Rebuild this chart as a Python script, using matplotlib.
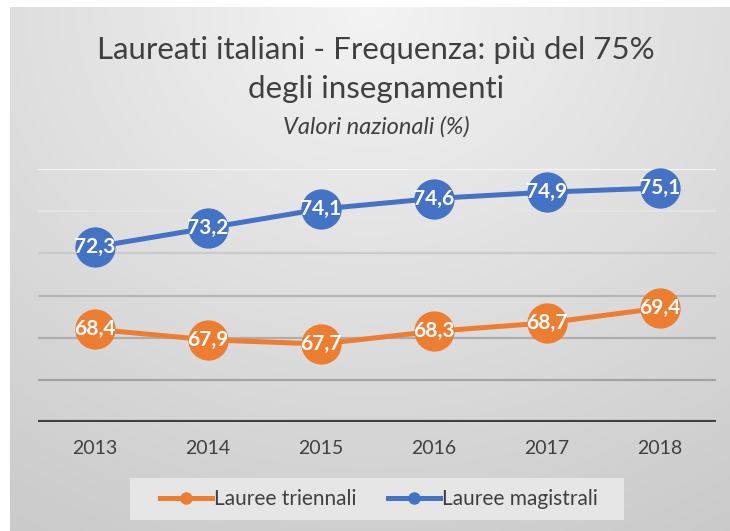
import numpy as np
import matplotlib.pyplot as plt
from matplotlib.patches import Rectangle

# dati
anni = ['2013', '2014', '2015', '2016', '2017', '2018']
triennali = [68.4, 67.9, 67.7, 68.3, 68.7, 69.4]
magistrali = [72.3, 73.2, 74.1, 74.6, 74.9, 75.1]
etichette = ['Lauree triennali', 'Lauree magistrali']

titolo_1 = 'Laureati italiani - Frequenza: più del 75%'
titolo_2 = 'degli insegnamenti'
sottotitolo = 'Valori nazionali (%)'

arancio = '#ED7D31'
blu = '#4472C4'
testo = '#404040'
plt.rcParams['font.family'] = ['Lato', 'DejaVu Sans']

fig = plt.figure(figsize=(7.30, 5.31), dpi=100)

# sfondo sfumato dell'area grafico
bg = fig.add_axes([10 / 730, 0, 720 / 730, 1 - 7 / 531], zorder=0)
gy, gx = np.mgrid[0:1:200j, 0:1:200j]
d = np.sqrt(((gx - 0.5) * 1.2) ** 2 + gy ** 2)
g = np.clip(0.955 - 0.14 * d, 0, 1)
bg.imshow(np.dstack([g, g, g]), extent=[0, 1, 0, 1], origin='upper',
          aspect='auto', interpolation='bicubic')
bg.axis('off')

ax = fig.add_axes([38 / 730, 1 - 422 / 531, 678 / 730, 253 / 531], zorder=1)
ax.patch.set_alpha(0)
x = np.arange(len(anni))

# griglia
livelli = [66, 68, 70, 72, 74, 76]
col_griglia = ['#a4a4a4', '#adadad', '#b6b6b6', '#cacaca', '#e4e4e4', '#f6f6f6']
for lv, c in zip(livelli, col_griglia):
    ax.axhline(lv, color=c, lw=1.6, zorder=1)
ax.axhline(64, color=testo, lw=3, zorder=2)

for serie, col in [(triennali, arancio), (magistrali, blu)]:
    ax.plot(x, serie, color=col, lw=3.6, marker='o', ms=29,
            markeredgewidth=0, zorder=3, clip_on=False)
    for xi, v in zip(x, serie):
        ax.text(xi, v, f'{v:.1f}'.replace('.', ','), ha='center', va='center',
                color='white', fontsize=15, fontweight='bold', zorder=4)

ax.set_xlim(-0.5, len(anni) - 0.5)
ax.set_ylim(64, 76)
ax.set_xticks(x)
ax.set_xticklabels(anni, fontsize=14, color=testo)
ax.tick_params(axis='x', length=0, pad=13)
ax.set_yticks([])
for s in ax.spines.values():
    s.set_visible(False)

# titolo
fig.text(376 / 730, 1 - 50 / 531, titolo_1, ha='center', va='center',
         fontsize=22.5, color=testo)
fig.text(376 / 730, 1 - 89 / 531, titolo_2, ha='center', va='center',
         fontsize=22.5, color=testo)
fig.text(376 / 730, 1 - 127 / 531, sottotitolo, ha='center', va='center',
         fontsize=17, style='italic', color=testo)

# legenda con riquadro chiaro
fig.patches.append(Rectangle((130 / 730, 1 - 520 / 531), 494 / 730, 42 / 531,
                             transform=fig.transFigure, facecolor='#e6e6e6',
                             edgecolor='none', zorder=1))
h1, = ax.plot([], [], color=arancio, lw=3.6, marker='o', ms=8)
h2, = ax.plot([], [], color=blu, lw=3.6, marker='o', ms=8)
leg = fig.legend([h1, h2], etichette, loc='center',
                 bbox_to_anchor=(379 / 730, 1 - 499 / 531), ncol=2,
                 frameon=False, fontsize=15, handlelength=2.5,
                 handletextpad=0.1, columnspacing=1.5, borderaxespad=0)
for t in leg.get_texts():
    t.set_color(testo)

fig.savefig('out.png', dpi=100)
